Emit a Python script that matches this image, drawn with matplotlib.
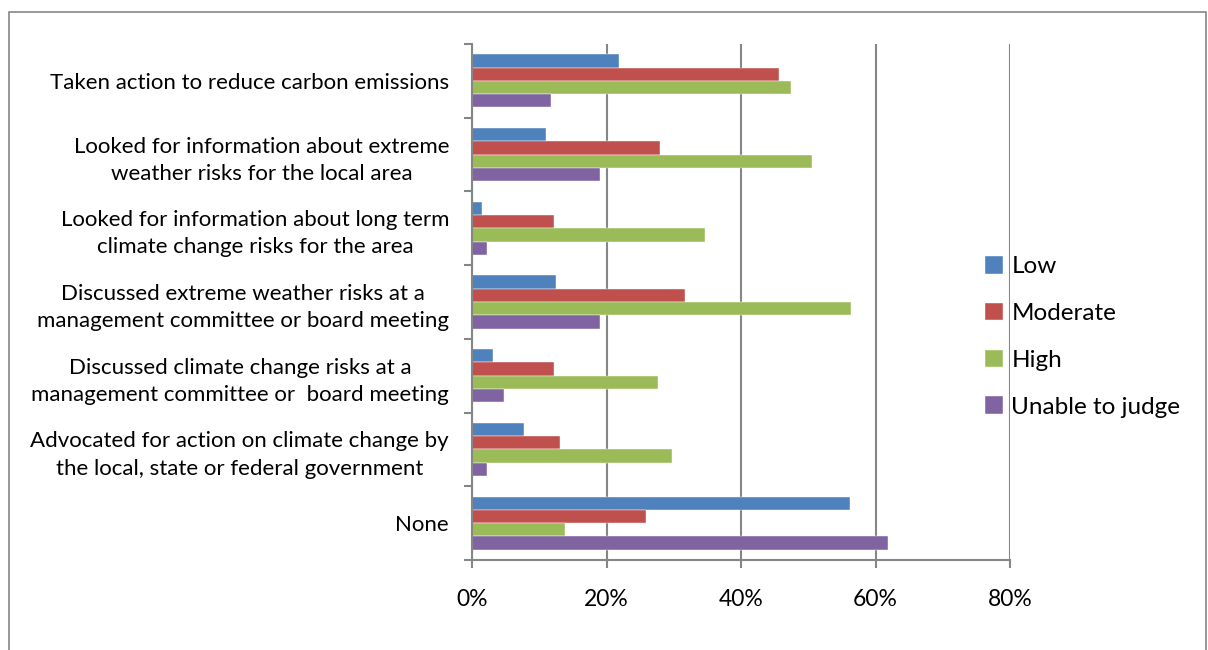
import matplotlib
matplotlib.use("Agg")
import matplotlib.pyplot as plt
import numpy as np
from matplotlib.patches import Rectangle

plt.rcParams['font.family'] = ['Lato', 'DejaVu Sans']

categories = [
    "Taken action to reduce carbon emissions",
    "Looked for information about extreme\nweather risks for the local area",
    "Looked for information about long term\nclimate change risks for the area",
    "Discussed extreme weather risks at a\nmanagement committee or board meeting",
    "Discussed climate change risks at a\nmanagement committee or  board meeting",
    "Advocated for action on climate change by\nthe local, state or federal government",
    "None",
]
series_names = ["Low", "Moderate", "High", "Unable to judge"]
low = [21.8, 11.0, 1.5, 12.5, 3.1, 7.7, 56.2]
moderate = [45.7, 28.0, 12.2, 31.7, 12.2, 13.1, 25.8]
high = [47.4, 50.5, 34.7, 56.4, 27.7, 29.7, 13.8]
unable = [11.8, 19.0, 2.3, 19.0, 4.7, 2.3, 61.9]
x_ticks = [0, 20, 40, 60, 80]
x_labels = ["0%", "20%", "40%", "60%", "80%"]

colors = ["#4F81BD", "#C0504D", "#9BBB59", "#8064A2"]
values = [low, moderate, high, unable]

fig = plt.figure(figsize=(12.08, 6.5), dpi=100)
# chart frame (runs past the lower edge of the figure)
fig.patches.append(Rectangle((9 / 1208, -0.05), 1197 / 1208, 1.05 - 12 / 650,
                             transform=fig.transFigure, fill=False,
                             edgecolor="#868686", linewidth=1.2))

ax = fig.add_axes([472 / 1208, 1 - 560 / 650, 538 / 1208, 516 / 650])

n = len(categories)
bar_h = 0.18
group_pos = np.arange(n)[::-1].astype(float)
for i, (name, vals, c) in enumerate(zip(series_names, values, colors)):
    offs = (1.5 - i) * bar_h
    ax.barh(group_pos + offs, vals, height=bar_h, color=c, label=name,
            edgecolor="white", linewidth=0.3)

ax.set_xlim(0, 80)
ax.set_ylim(-0.5, n - 0.5)
ax.set_xticks(x_ticks)
ax.set_xticklabels(x_labels, fontsize=16.5)
ax.set_yticks(group_pos)
ax.set_yticklabels(categories, fontsize=16, multialignment="center",
                   linespacing=1.45)
ax.set_yticks(np.arange(n + 1) - 0.5, minor=True)
ax.tick_params(axis="y", which="major", length=0, pad=16.5)
ax.tick_params(axis="y", which="minor", length=6, width=1.5, color="#868686")
ax.tick_params(axis="x", length=6, width=1.5, color="#868686", pad=15)

ax.grid(axis="x", color="#868686", linewidth=1.5)
ax.set_axisbelow(True)
for s in ["top", "right"]:
    ax.spines[s].set_visible(False)
for s in ["left", "bottom"]:
    ax.spines[s].set_color("#868686")
    ax.spines[s].set_linewidth(1.5)

leg = fig.legend(loc="upper left", bbox_to_anchor=(975 / 1208, 1 - 246 / 650),
                 frameon=False, fontsize=17.5, handlelength=0.75, handleheight=0.75,
                 handletextpad=0.35, labelspacing=1.05, borderaxespad=0)

fig.savefig("out.png", dpi=100)
